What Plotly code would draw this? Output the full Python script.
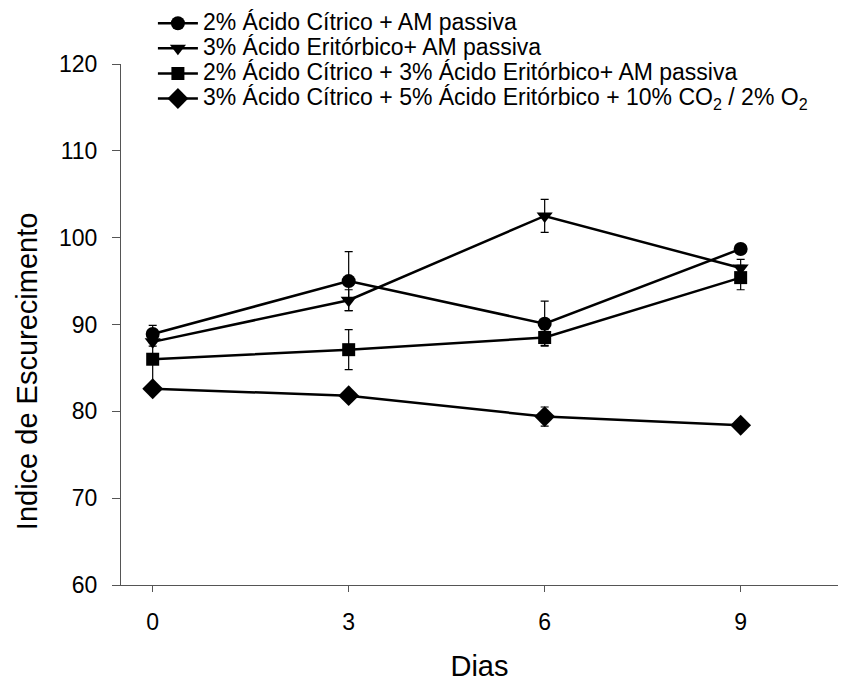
import plotly.graph_objects as go

days = [0, 3, 6, 9]
series_names = [
    "2% Ácido Cítrico + AM passiva",
    "3% Ácido Eritórbico+ AM passiva",
    "2% Ácido Cítrico + 3% Ácido Eritórbico+ AM passiva",
    "3% Ácido Cítrico + 5% Ácido Eritórbico + 10% CO<sub>2</sub> / 2% O<sub>2</sub>",
]
citrico = [88.9, 95.0, 90.1, 98.7]
citrico_err = [1.0, 3.4, 2.6, 0.5]
eritorbico = [88.0, 92.8, 102.5, 96.5]
eritorbico_err = [0.5, 1.2, 1.9, 1.0]
cit_erit = [86.0, 87.1, 88.5, 95.4]
cit_erit_err = [3.0, 2.3, 0.9, 1.4]
atm = [82.6, 81.8, 79.4, 78.4]
atm_err = [0.3, 0.3, 1.1, 0.3]

values = [citrico, eritorbico, cit_erit, atm]
errors = [citrico_err, eritorbico_err, cit_erit_err, atm_err]
symbols = ["circle", "triangle-down", "square", "diamond"]
sizes = [14, 14, 13, 16]

FONT = "Liberation Sans, Arial, sans-serif"

fig = go.Figure()
for i in range(4):
    fig.add_trace(go.Scatter(
        x=days, y=values[i], mode="lines+markers",
        name=f"<span style='font-size:23px'>{series_names[i]}</span>",
        legendgroup=f"g{i}",
        line=dict(color="black", width=2.5),
        marker=dict(symbol=symbols[i], size=sizes[i], color="black"),
        error_y=dict(type="data", array=errors[i], visible=True,
                     color="black", thickness=1.2, width=4),
    ))

fig.add_annotation(
    text="Indice de Escurecimento", textangle=-90,
    xref="paper", yref="paper", x=-0.13, y=0.41,
    xanchor="center", yanchor="middle", showarrow=False,
    font=dict(family=FONT, size=29, color="black"),
)

fig.update_layout(
    width=859, height=682,
    margin=dict(l=121, r=21, t=64, b=97, autoexpand=False),
    plot_bgcolor="white", paper_bgcolor="white",
    font=dict(family=FONT, color="black", size=17),
    showlegend=True,
    legend=dict(
        x=0.0445, y=1.112, xanchor="left", yanchor="top",
        font=dict(family=FONT, size=17, color="black"),
        bgcolor="rgba(0,0,0,0)", tracegroupgap=0,
        traceorder="grouped", itemwidth=40,
    ),
    xaxis=dict(
        range=[-0.485, 10.49], tickvals=days, ticktext=["0", "3", "6", "9"],
        showline=True, linecolor="#555", linewidth=1.2,
        ticks="outside", ticklen=6, tickcolor="#555",
        showgrid=False, zeroline=False, automargin=False,
        tickfont=dict(size=23), ticklabelstandoff=10,
        title=dict(text="Dias", font=dict(size=29), standoff=25),
    ),
    yaxis=dict(
        range=[60, 120], tickvals=[60, 70, 80, 90, 100, 110, 120],
        showline=True, linecolor="#555", linewidth=1.2,
        ticks="outside", ticklen=8, tickcolor="#555",
        showgrid=False, zeroline=False, automargin=False,
        tickfont=dict(size=23), ticklabelstandoff=10,
    ),
)

fig.write_html("out.html")
